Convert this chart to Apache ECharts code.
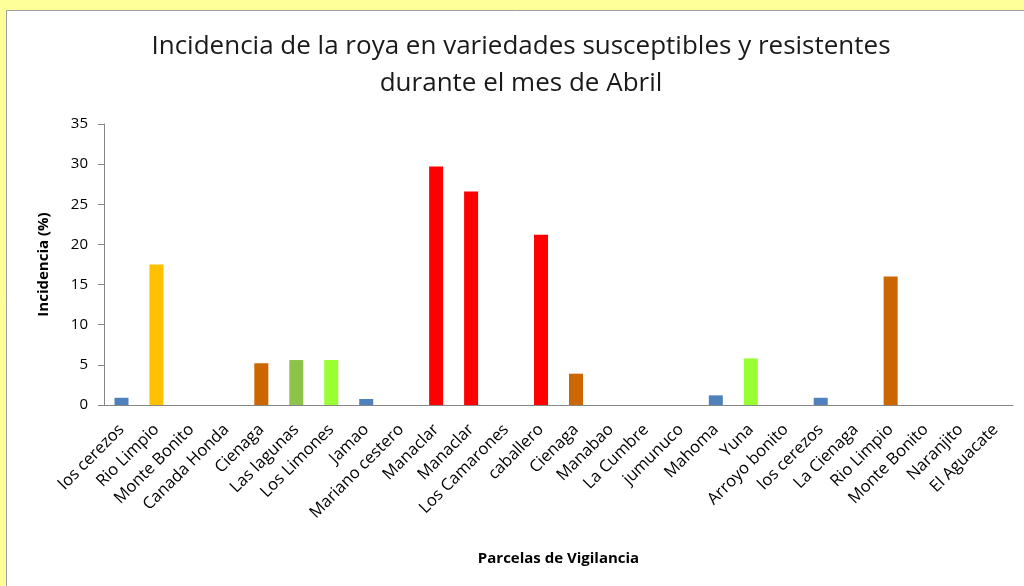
<!DOCTYPE html>
<html>
<head>
<meta charset="utf-8">
<script src="https://cdn.jsdelivr.net/npm/echarts@6/dist/echarts.min.js"></script>
<style>
html,body{margin:0;padding:0;background:#FFFF99;}
#c{width:1024px;height:586px;}
</style>
</head>
<body>
<div id="c"></div>
<script>
const categories = ["los cerezos","Rio Limpio","Monte Bonito","Canada Honda","Cienaga","Las lagunas","Los Limones","Jamao","Mariano cestero","Manaclar","Manaclar","Los Camarones","caballero","Cienaga","Manabao","La Cumbre","jumunuco","Mahoma","Yuna","Arroyo bonito","los cerezos","La Cienaga","Rio Limpio","Monte Bonito","Naranjito","El Aguacate"];
const incidence = [0.9,17.5,0,0,5.2,5.6,5.6,0.75,0,29.7,26.6,0,21.2,3.9,0,0,0,1.2,5.8,0,0.9,0,16.0,0,0,0];
const barColors = ["#4F81BD","#FFC000","#4F81BD","#4F81BD","#CC6600","#8DC34A","#99FF33","#4F81BD","#4F81BD","#FF0000","#FF0000","#FF0000","#FF0000","#CC6600","#4F81BD","#4F81BD","#4F81BD","#4F81BD","#99FF33","#4F81BD","#4F81BD","#4F81BD","#CC6600","#4F81BD","#4F81BD","#4F81BD"];
const yTicks = {min:0, max:35, interval:5};

const chart = echarts.init(document.getElementById('c'), null, {renderer:'canvas'});
const font = "'Open Sans', 'Noto Sans', sans-serif";
chart.setOption({
  backgroundColor: '#FFFF99',
  animation: false,
  graphic: [{
    type: 'rect', z: -10, silent: true,
    shape: {x: 6.5, y: 10.5, width: 1100, height: 700},
    style: {fill: '#FFFFFF', stroke: '#A0A0A0', lineWidth: 1}
  }],
  title: {
    text: 'Incidencia de la roya en variedades susceptibles y resistentes\ndurante el mes de Abril',
    left: 516, top: 23, textAlign: 'center',
    textStyle: {fontFamily: font, fontSize: 26, fontWeight: 'normal', color: '#1a1a1a', lineHeight: 37}
  },
  grid: {left: 104, right: 11, top: 124, bottom: 181, containLabel: false},
  xAxis: {
    type: 'category', data: categories,
    name: 'Parcelas de Vigilancia', nameLocation: 'middle', nameGap: 146,
    nameTextStyle: {fontFamily: font, fontSize: 15, fontWeight: 'bold', color: '#000'},
    axisLine: {lineStyle: {color: '#868686', width: 1}},
    axisTick: {show: false},
    axisLabel: {rotate: 45, interval: 0, margin: 22, fontFamily: font, fontSize: 16.5, color: '#000'}
  },
  yAxis: {
    type: 'value', min: yTicks.min, max: yTicks.max, interval: yTicks.interval,
    name: 'Incidencia (%)', nameLocation: 'middle', nameGap: 53, nameRotate: 90,
    nameTextStyle: {fontFamily: font, fontSize: 15, fontWeight: 'bold', color: '#000'},
    axisLine: {show: true, lineStyle: {color: '#868686', width: 1}},
    axisTick: {show: true, length: 6, lineStyle: {color: '#868686'}},
    splitLine: {show: false},
    axisLabel: {margin: 16, fontFamily: font, fontSize: 15, color: '#000'}
  },
  series: [{
    type: 'bar', barWidth: 14,
    data: incidence.map((v, i) => ({value: v, itemStyle: {color: barColors[i]}}))
  }]
});
</script>
</body>
</html>
